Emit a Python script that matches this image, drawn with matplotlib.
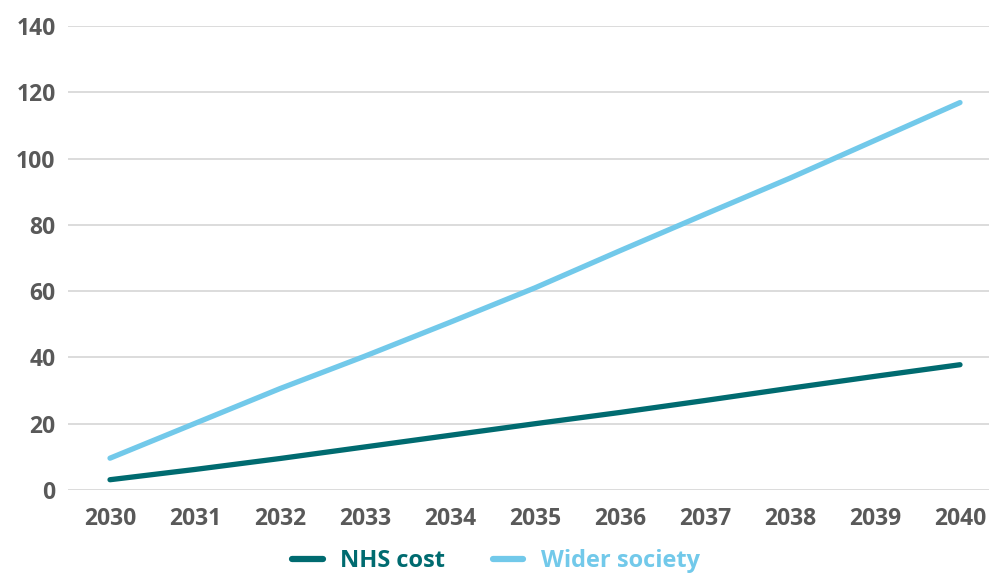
import matplotlib.pyplot as plt
import numpy as np

years = [2030, 2031, 2032, 2033, 2034, 2035, 2036, 2037, 2038, 2039, 2040]
nhs_cost = [3.1, 6.2, 9.5, 13.0, 16.5, 20.0, 23.4, 27.0, 30.7, 34.3, 37.8]
wider_society = [9.6, 20.1, 30.6, 40.4, 50.6, 61.0, 72.2, 83.2, 94.1, 105.5, 116.9]

plt.rcParams['font.family'] = ['Open Sans', 'DejaVu Sans']
plt.rcParams['font.weight'] = 'bold'

W, H = 989, 577
fig = plt.figure(figsize=(W / 100, H / 100), dpi=100)
ax = fig.add_axes([68 / W, (H - 490) / H, (W - 68) / W, (490 - 26) / H])

ax.plot(years, nhs_cost, color='#006b70', lw=3.8, solid_capstyle='round', label='NHS cost')
ax.plot(years, wider_society, color='#72c9ea', lw=3.8, solid_capstyle='round', label='Wider society')

ax.set_xlim(2030 - 42 / 85, 2040 + 29 / 85)
ax.set_ylim(0, 140)
ax.set_xticks(years)
ax.set_yticks(np.arange(0, 141, 20))
ax.grid(axis='y', color='#d9d9d9', lw=1.3)
ax.set_axisbelow(True)
for s in ax.spines.values():
    s.set_visible(False)
ax.tick_params(length=0, labelsize=16.5, labelcolor='#595959')
ax.tick_params(axis='x', pad=12.5)
ax.tick_params(axis='y', pad=9)
for lbl in ax.get_xticklabels() + ax.get_yticklabels():
    lbl.set_fontweight('bold')

# legend sits below the year labels, close to the bottom edge
leg = fig.legend(loc='center', bbox_to_anchor=(496 / W, (H - 561) / H), ncol=2,
                 frameon=False, labelcolor='linecolor', fontsize=17,
                 handlelength=1.3, columnspacing=2.0, handletextpad=0.75,
                 borderpad=0.2)
for t in leg.get_texts():
    t.set_fontweight('bold')
for h in leg.legend_handles:
    h.set_linewidth(4.5)
    h.set_solid_capstyle('round')

fig.savefig('out.png', dpi=100)
plt.close(fig)
